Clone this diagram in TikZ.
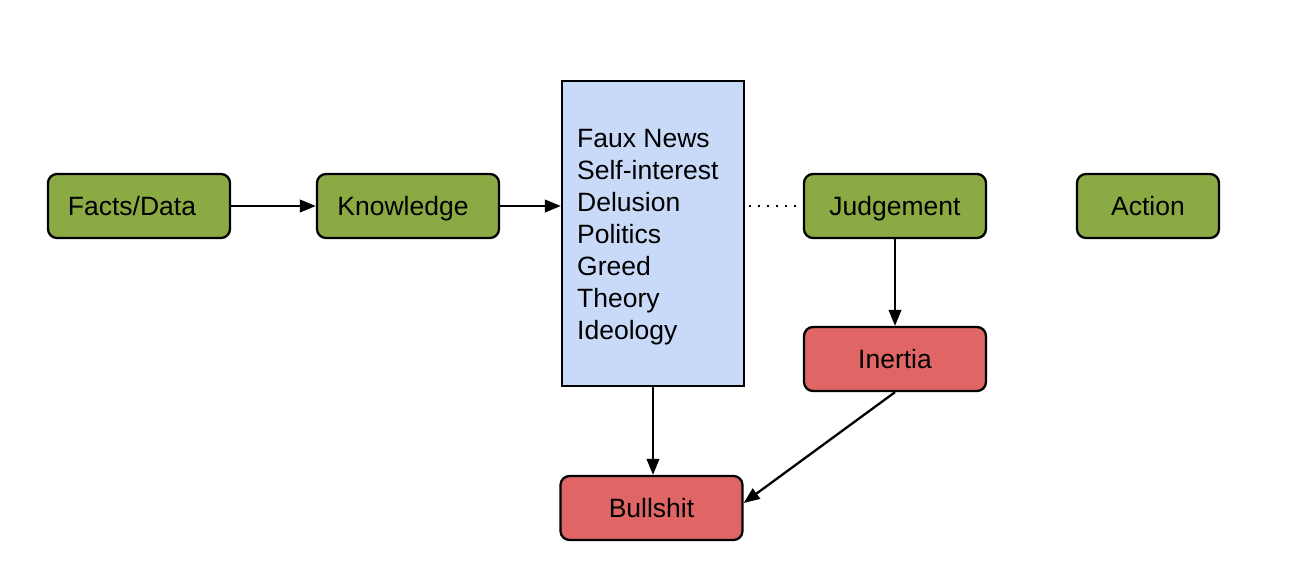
\documentclass[tikz,border=0pt]{standalone}
\usepackage{fontspec}
\setmainfont{Liberation Sans}
\usetikzlibrary{arrows.meta,calc}
\definecolor{boxgreen}{HTML}{8CAA44}
\definecolor{boxred}{HTML}{E06666}
\definecolor{boxblue}{HTML}{C9DAF8}
\begin{document}
\begin{tikzpicture}[x=1pt,y=-1pt,
  every node/.style={font=\fontsize{26.5}{32}\selectfont},
  rbox/.style={draw=black, line width=2.3pt, rounded corners=9pt, minimum height=64pt,
               inner sep=0pt, text height=19pt, text depth=0pt},
  greenbox/.style={rbox, fill=boxgreen, minimum width=182pt},
  redbox/.style={rbox, fill=boxred, minimum width=182pt},
  conn/.style={line width=2.3pt, -{Triangle[length=16pt,width=12.5pt]}},
  dotconn/.style={line width=2.3pt, dash pattern=on 2pt off 7pt}
]
\useasboundingbox (0,0) rectangle (1296,581);
\node[greenbox] (facts) at (139,206) {Facts/Data\rule{14pt}{0pt}};
\node[greenbox] (know) at (408,206) {Knowledge\rule{10pt}{0pt}};
\node[draw=black, line width=2.3pt, fill=boxblue, minimum width=182pt, minimum height=305pt,
      inner sep=0pt] (blue) at (653,233.5) {};
\node[anchor=north west, inner sep=0pt, align=left] (blist) at (577,129)
  {Faux News\\Self-interest\\Delusion\\Politics\\Greed\\Theory\\Ideology};
\node[greenbox] (judge) at (895,206) {Judgement};
\node[greenbox, minimum width=142pt] (action) at (1148,206) {Action};
\node[redbox] (inertia) at (895,359) {Inertia};
\node[redbox] (bull) at (651.5,508) {Bullshit};
\draw[conn] (facts.east) -- (know.west);
\draw[conn] (know.east) -- (know.east -| blue.west);
\draw[dotconn] ($(blue.east)+(4,-27.5)$) coordinate (d1) -- (d1 -| judge.west);
\draw[conn] (judge.south) -- (inertia.north);
\draw[conn] (blue.south) -- (blue.south |- bull.north);
\draw[conn] (inertia.south) -- ($(bull.east)+(0,-5)$);
\end{tikzpicture}
\end{document}
